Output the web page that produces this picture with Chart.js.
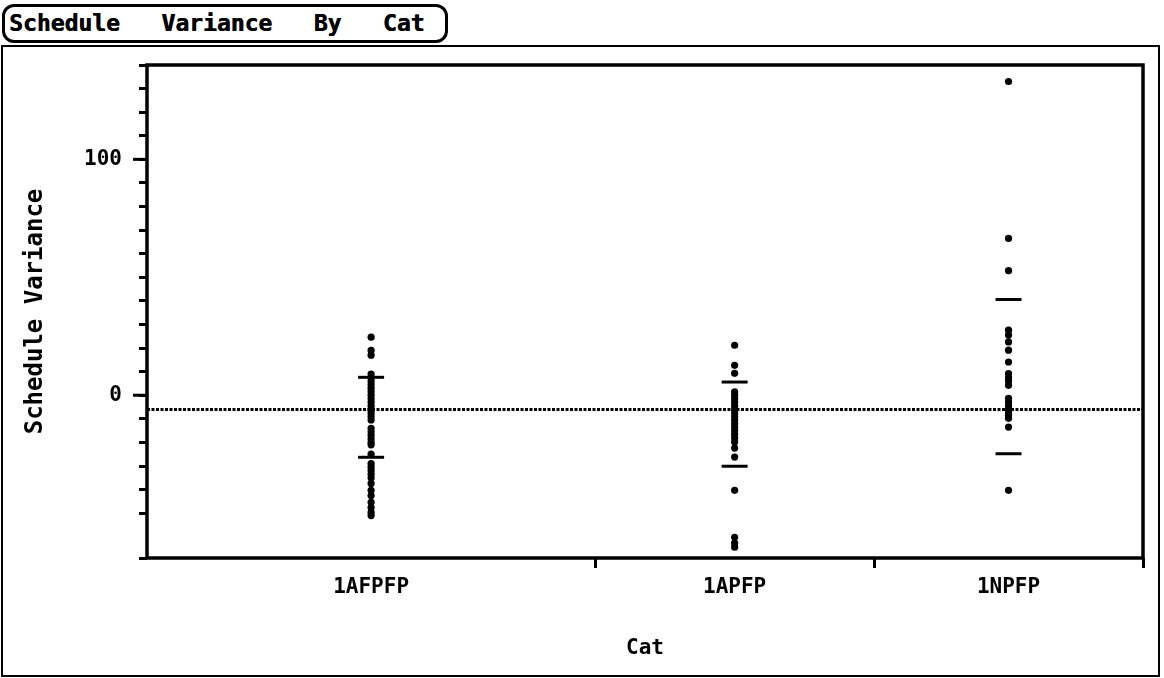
<!DOCTYPE html>
<html>
<head>
<meta charset="utf-8">
<script src="https://cdn.jsdelivr.net/npm/chart.js@4/dist/chart.umd.min.js"></script>
<style>
  html, body { margin: 0; padding: 0; background: #fff; }
  #wrap { position: relative; width: 1164px; height: 678px; overflow: hidden; }
  #title {
    position: absolute; left: 2px; top: 4px; width: 446px; height: 39px;
    box-sizing: border-box; border: 3px solid #000; border-radius: 12px;
    font: bold 23px 'DejaVu Sans Mono', monospace; line-height: 33px;
    white-space: pre; padding-left: 4px; color: #000;
    text-shadow: 0.6px 0 0 #000;
  }
  #frame {
    position: absolute; left: 1px; top: 45px; width: 1159px; height: 632px;
    box-sizing: border-box; border: 2px solid #000;
  }
  canvas { position: absolute; left: 0; top: 0; }
</style>
</head>
<body>
<div id="wrap">
  <div id="frame"></div>
  <div id="title">Schedule   Variance   By   Cat</div>
  <canvas id="varChart" width="1164" height="678"></canvas>
</div>
<script>
// categories and group sizes (x axis widths are proportional to n)
const categories = ['1AFPFP', '1APFP', '1NPFP'];
const groupSizes = [45, 28, 27];

// schedule variance values
const afpfpValues = [24.6, 19, 17, 9, 7.5, 6, 4.5, 3, 1.5, 0, -1.5, -3, -4.5, -6, -7.5, -9, -10.5,
  -14, -15.5, -17, -18.5, -20, -21, -25, -29, -30.5, -32, -33.5, -35,
  -37.4, -40.3, -42.5, -45.4, -47.6, -49.7, -51];
const apfpValues = [21.2, 12.7, 9.3, 1.4, 0, -1.5, -3, -4.5, -6, -7.5, -9, -10.5, -12, -13.5,
  -15, -16.5, -18, -19.8, -22.4, -26.2, -40.3, -60.2, -62.7, -64.4];
const npfpValues = [133, 66.5, 52.8, 27.6, 25.5, 22.6, 19.1, 14.1, 9.2, 7.5, 6, 4.2,
  -1.3, -2.8, -4.3, -5.8, -7.3, -8.5, -9.8, -13.5, -40.3];

// mean +/- 1 std dev markers per group
const sdUpper = [7.6, 5.6, 40.6];
const sdLower = [-26.3, -30.1, -24.8];
const grandMean = -6;

const yMin = -69, yMax = 140;
const yTickLabels = [0, 100];

// build x positions from group sizes
let bounds = [0];
groupSizes.forEach((n, i) => bounds.push(bounds[i] + n));
const centers = groupSizes.map((n, i) => bounds[i] + n / 2);
const xMax = bounds[bounds.length - 1];

const groupValues = [afpfpValues, apfpValues, npfpValues];
let datasets = [];
groupValues.forEach((vals, i) => {
  datasets.push({
    label: categories[i],
    data: vals.map(v => ({x: centers[i], y: v})),
    pointStyle: 'circle',
    pointRadius: 3.6,
    backgroundColor: '#000',
    borderColor: '#000',
    borderWidth: 0
  });
});
datasets.push({
  label: 'sd',
  data: centers.map((c, i) => ({x: c, y: sdUpper[i]})).concat(centers.map((c, i) => ({x: c, y: sdLower[i]}))),
  pointStyle: 'line',
  pointRadius: 13,
  borderColor: '#000',
  borderWidth: 3
});
datasets.push({
  label: 'mean',
  type: 'line',
  data: [{x: 0, y: grandMean}, {x: xMax, y: grandMean}],
  borderColor: '#000',
  borderWidth: 3,
  borderDash: [3, 1.5],
  pointRadius: 0,
  fill: false
});

// frame around plot + longer ticks at labelled values
const framePlugin = {
  id: 'framePlugin',
  afterDraw(chart) {
    const {ctx, chartArea} = chart;
    const y = chart.scales.y;
    ctx.save();
    ctx.strokeStyle = '#000';
    ctx.lineWidth = 3.5;
    ctx.strokeRect(chartArea.left, chartArea.top, chartArea.right - chartArea.left, chartArea.bottom - chartArea.top);
    ctx.lineWidth = 3;
    yTickLabels.forEach(v => {
      const py = y.getPixelForValue(v);
      ctx.beginPath();
      ctx.moveTo(chartArea.left - 14, py);
      ctx.lineTo(chartArea.left, py);
      ctx.stroke();
    });
    ctx.restore();
  }
};

const monoFont = "'DejaVu Sans Mono', monospace";

new Chart('varChart', {
  type: 'scatter',
  data: { datasets: datasets },
  plugins: [framePlugin],
  options: {
    responsive: false,
    animation: false,
    layout: { padding: { left: 0, top: 65, right: 21, bottom: 0 } },
    plugins: {
      legend: { display: false },
      tooltip: { enabled: false },
      title: { display: false }
    },
    scales: {
      x: {
        type: 'linear',
        min: 0,
        max: xMax,
        afterFit: (s) => { s.height = 120; },
        afterBuildTicks: (s) => {
          let t = [];
          bounds.slice(1).forEach(b => t.push({value: b}));
          centers.forEach(c => t.push({value: c}));
          t.sort((a, b) => a.value - b.value);
          s.ticks = t;
        },
        border: { display: false },
        grid: {
          drawOnChartArea: false,
          tickLength: 10,
          tickWidth: 3,
          tickColor: (c) => (c.tick && centers.includes(c.tick.value)) ? 'rgba(0,0,0,0)' : '#000'
        },
        ticks: {
          autoSkip: false,
          maxRotation: 0,
          padding: 7,
          color: '#000',
          font: { family: monoFont, size: 21, weight: 'bold' },
          callback: (v) => {
            const i = centers.indexOf(v);
            return i >= 0 ? categories[i] : '';
          }
        },
        title: {
          display: true,
          text: 'Cat',
          color: '#000',
          font: { family: monoFont, size: 21, weight: 'bold' },
          padding: { top: 0, bottom: 17 }
        }
      },
      y: {
        min: yMin,
        max: yMax,
        afterFit: (s) => { s.width = 147; },
        border: { display: false },
        grid: {
          drawOnChartArea: false,
          tickLength: 8,
          tickWidth: 3,
          tickColor: '#000'
        },
        ticks: {
          stepSize: 10,
          autoSkip: false,
          padding: 17,
          color: '#000',
          font: { family: monoFont, size: 21, weight: 'bold' },
          callback: (v) => yTickLabels.includes(v) ? String(v) : ''
        },
        title: {
          display: true,
          text: 'Schedule Variance',
          color: '#000',
          font: { family: monoFont, size: 24, weight: 'bold' },
          padding: { top: 21, bottom: 0 }
        }
      }
    }
  }
});
</script>
</body>
</html>
